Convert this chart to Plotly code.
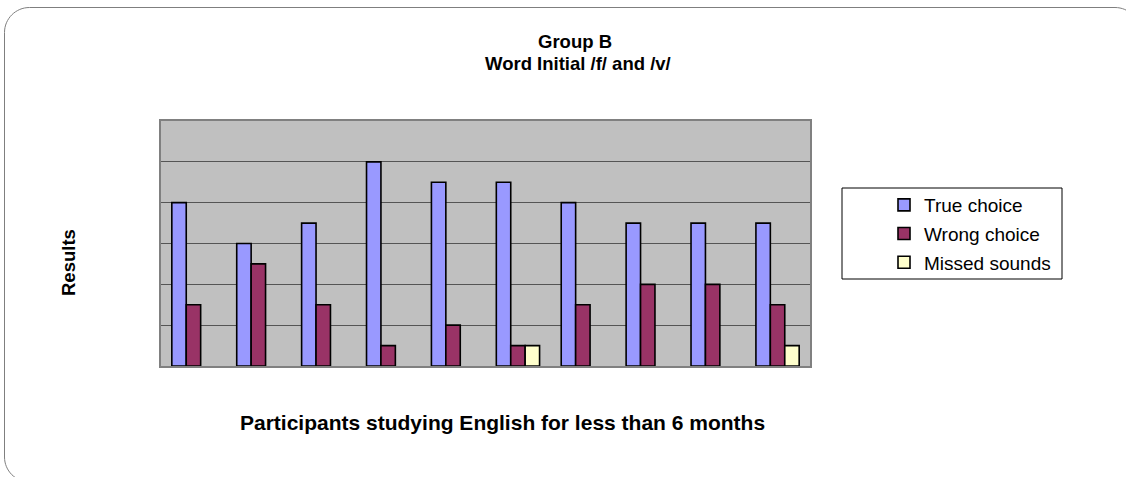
import plotly.graph_objects as go

participants = ["P1", "P2", "P3", "P4", "P5", "P6", "P7", "P8", "P9", "P10"]
true_choice = [8, 6, 7, 10, 9, 9, 8, 7, 7, 7]
wrong_choice = [3, 5, 3, 1, 2, 1, 3, 4, 4, 3]
missed_sounds = [None, None, None, None, None, 1, None, None, None, 1]

series_names = ["True choice", "Wrong choice", "Missed sounds"]
series_colors = ["#9999FF", "#993366", "#FFFFCC"]

W, H = 1126, 477
L, R, T, B = 161, 810, 121, 366
pw, ph = R - L, B - T


def px(x):
    return (x - L) / pw


def py(y):
    return (B - y) / ph


FONT = "Liberation Sans, Arial, sans-serif"

fig = go.Figure()
for i, (name, vals, col) in enumerate(zip(series_names, [true_choice, wrong_choice, missed_sounds], series_colors)):
    fig.add_trace(go.Bar(
        x=participants, y=vals, name=name,
        marker=dict(color=col, line=dict(color="black", width=1.6)),
        legendgroup=f"g{i}",
    ))

# rounded outer frame
r = 25
x0, y0, x1, y1 = 4.5, 7.5, 1140, 482
k = 0.5523 * r
path = (
    f"M {px(x0)},{py(y1 - r)} "
    f"L {px(x0)},{py(y0 + r)} "
    f"C {px(x0)},{py(y0 + r - k)} {px(x0 + r - k)},{py(y0)} {px(x0 + r)},{py(y0)} "
    f"L {px(x1 - r)},{py(y0)} "
    f"C {px(x1 - r + k)},{py(y0)} {px(x1)},{py(y0 + r - k)} {px(x1)},{py(y0 + r)} "
    f"L {px(x1)},{py(y1 - r)} "
    f"C {px(x1)},{py(y1 - r + k)} {px(x1 - r + k)},{py(y1)} {px(x1 - r)},{py(y1)} "
    f"L {px(x0 + r)},{py(y1)} "
    f"C {px(x0 + r - k)},{py(y1)} {px(x0)},{py(y1 - r + k)} {px(x0)},{py(y1 - r)} Z"
)
fig.add_shape(type="path", path=path, xref="paper", yref="paper",
              line=dict(color="#7F7F7F", width=1), layer="below")

# legend box
fig.add_shape(type="rect", xref="paper", yref="paper",
              x0=px(842), x1=px(1062), y0=py(279), y1=py(188),
              line=dict(color="black", width=1), fillcolor="white", layer="below")

TITLE_SIZE = 18.5


def label(text, x, y, size, angle=0):
    fig.add_annotation(text=f"<b>{text}</b>", x=px(x), y=py(y), xref="paper", yref="paper",
                       xanchor="center", yanchor="middle", showarrow=False, textangle=angle,
                       font=dict(family=FONT, size=size, color="black"))


label("Group B", 575, 42, TITLE_SIZE)
label("Word Initial /f/ and /v/", 578, 63, TITLE_SIZE)
label("Participants studying English for less than 6 months", 502, 422, 21)
label("Results", 68, 263, 18.5, angle=-90)

fig.update_layout(
    width=W, height=H,
    margin=dict(l=L, r=W - R, t=T, b=H - B, pad=0),
    paper_bgcolor="white",
    plot_bgcolor="#C0C0C0",
    barmode="group",
    bargap=1.5 / 4.5,
    bargroupgap=0,
    font=dict(family=FONT, size=19, color="black"),
    showlegend=True,
    legend=dict(
        x=px(884), y=py(186), xanchor="left", yanchor="top",
        bgcolor="rgba(0,0,0,0)", borderwidth=0,
        traceorder="grouped", tracegroupgap=1,
        font=dict(family=FONT, size=19, color="black"),
        itemwidth=30,
    ),
    xaxis=dict(showticklabels=False, ticks="", showgrid=False, showline=True, mirror=True,
               linecolor="#808080", linewidth=2, zeroline=False),
    yaxis=dict(range=[0, 12], dtick=2, showticklabels=False, ticks="", showgrid=True,
               gridcolor="#555555", gridwidth=1, showline=True, mirror=True,
               linecolor="#808080", linewidth=2, zeroline=False),
)

fig.write_html("out.html", config={"displayModeBar": False},
               post_script="document.body.style.margin='0';document.body.style.overflow='hidden';")
